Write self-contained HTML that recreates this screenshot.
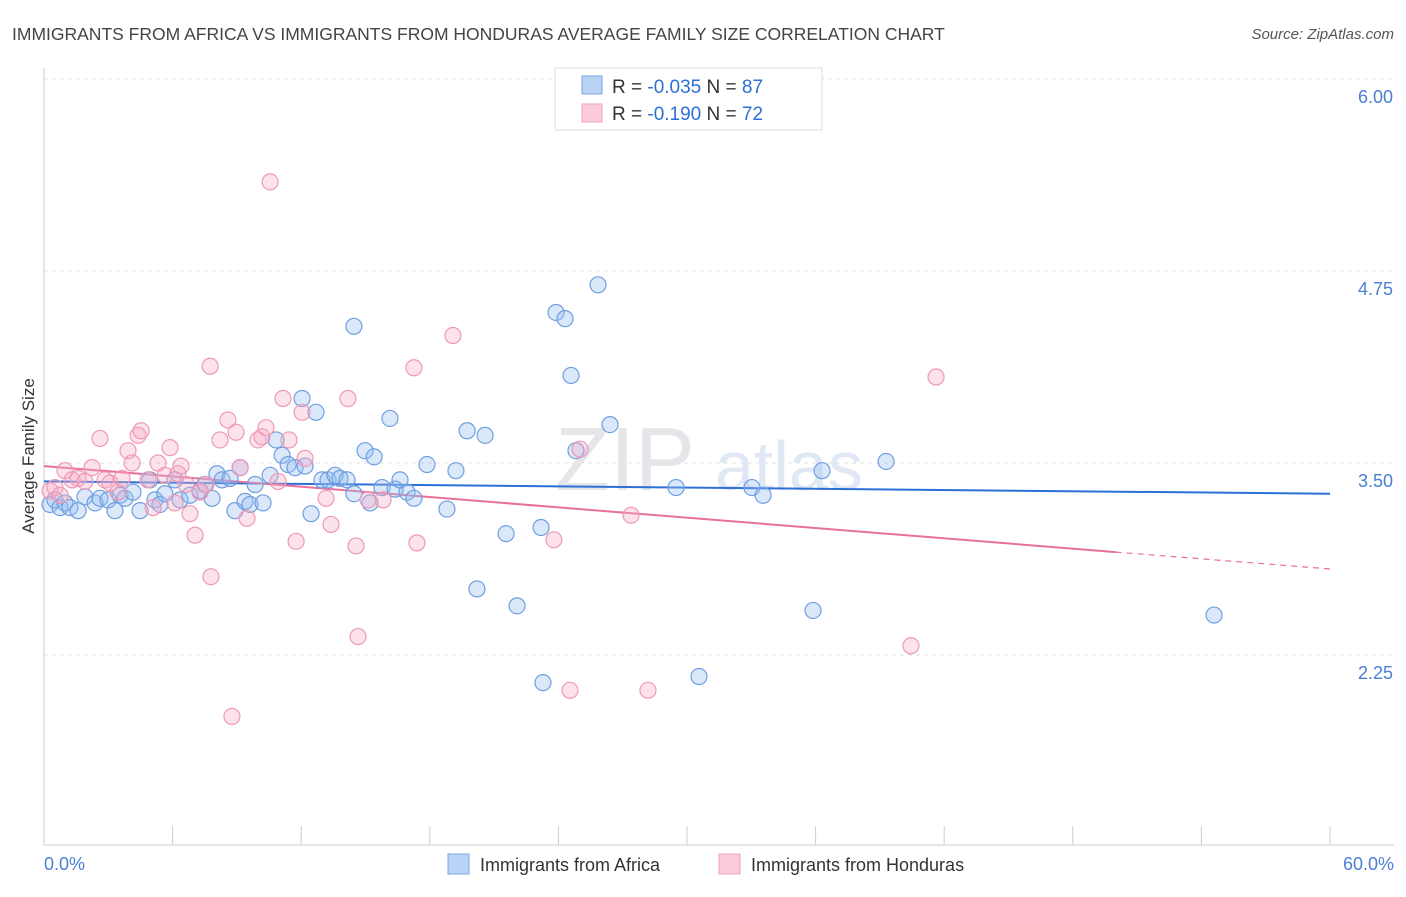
<!DOCTYPE html>
<html><head><meta charset="utf-8"><style>
body{margin:0;background:#fff;font-family:"Liberation Sans",sans-serif;}
svg text{font-family:"Liberation Sans",sans-serif;}
</style></head><body>
<svg id="chart" width="1406" height="892" xmlns="http://www.w3.org/2000/svg">
<text x="12" y="40" font-size="17.5" fill="#444">IMMIGRANTS FROM AFRICA VS IMMIGRANTS FROM HONDURAS AVERAGE FAMILY SIZE CORRELATION CHART</text>
<text x="1394" y="39" font-size="15" fill="#555" font-style="italic" text-anchor="end">Source: ZipAtlas.com</text>
<text x="555" y="490" font-size="90" fill="#e6e6ea" font-family="Liberation Serif">ZIP</text>
<text x="715" y="490" font-size="70" fill="#dfe8f4">atlas</text>
<g id="grid"></g>
<g id="axes"></g>
<g id="trend"></g>
<g id="points"></g>
<text transform="translate(34,456) rotate(-90)" font-size="17" fill="#333" text-anchor="middle">Average Family Size</text>
<text x="44" y="870" font-size="18" fill="#4a7fd4">0.0%</text>
<text x="1394" y="870" font-size="18" fill="#4a7fd4" text-anchor="end">60.0%</text>
<g>
<rect x="555" y="68" width="267" height="62" fill="#fff" stroke="#ddd"/>
<rect x="582" y="76" width="20" height="18" fill="#b9d3f7" stroke="#7aa7e6"/>
<rect x="582" y="104" width="20" height="18" fill="#fbcbd9" stroke="#f0a3bd"/>
<text x="612" y="93" font-size="19" fill="#333">R = <tspan fill="#2d6fd6">-0.035</tspan>   N = <tspan fill="#2d6fd6">87</tspan></text>
<text x="612" y="120" font-size="19" fill="#333">R =  <tspan fill="#2d6fd6">-0.190</tspan>   N = <tspan fill="#2d6fd6">72</tspan></text>
</g>
<g>
<rect x="448" y="854" width="21" height="20" fill="#b9d3f7" stroke="#7aa7e6"/>
<text x="480" y="871" font-size="18" fill="#333">Immigrants from Africa</text>
<rect x="719" y="854" width="21" height="20" fill="#fbcbd9" stroke="#f0a3bd"/>
<text x="751" y="871" font-size="18" fill="#333">Immigrants from Honduras</text>
</g>
</svg>
<script>
const yTicks=[6.00,4.75,3.50,2.25];
const yTickLabels=["6.00","4.75","3.50","2.25"];
const xTicks=[0,6,12,18,24,30,36,42,48,54,60];
const blueX=[0.28,0.51,0.75,0.98,1.21,1.59,1.91,2.38,2.61,2.99,3.31,3.55,3.78,4.15,4.48,4.94,5.18,5.41,5.64,6.11,6.35,6.81,7.28,7.51,7.84,8.07,8.31,8.68,8.91,9.15,9.38,9.61,9.85,10.22,10.55,10.83,11.11,11.39,11.71,12.04,12.18,12.46,12.69,12.97,13.25,13.58,13.81,14.14,14.46,14.46,14.98,15.21,15.40,15.77,16.14,16.38,16.61,16.94,17.26,17.87,18.80,19.22,19.74,20.20,20.58,21.56,22.07,23.19,23.28,23.89,24.31,24.59,24.82,25.85,26.41,29.49,30.56,33.03,33.55,35.88,36.30,39.29,54.59];
const blueY=[3.23,3.26,3.21,3.24,3.21,3.19,3.28,3.24,3.27,3.26,3.19,3.29,3.27,3.31,3.19,3.39,3.26,3.23,3.30,3.39,3.26,3.29,3.32,3.36,3.27,3.43,3.39,3.40,3.19,3.47,3.25,3.23,3.36,3.24,3.42,3.65,3.55,3.49,3.47,3.92,3.48,3.17,3.83,3.39,3.39,3.42,3.40,3.39,3.30,4.39,3.58,3.24,3.54,3.34,3.79,3.33,3.39,3.31,3.27,3.49,3.20,3.45,3.71,2.68,3.68,3.04,2.57,3.08,2.07,4.48,4.44,4.07,3.58,4.66,3.75,3.34,2.11,3.34,3.29,2.54,3.45,3.51,2.51];
const pinkX=[0.28,0.51,0.75,0.98,1.31,1.59,1.91,2.24,2.61,2.85,3.08,3.45,3.64,3.92,4.11,4.39,4.53,4.85,5.09,5.32,5.65,5.88,6.11,6.25,6.39,6.63,6.81,7.05,7.28,7.56,7.75,7.79,8.21,8.58,8.77,8.96,9.15,9.47,9.98,10.17,10.36,10.55,10.92,11.15,11.43,11.76,12.04,12.18,13.16,13.39,14.18,14.56,14.65,15.12,15.82,17.26,17.40,19.08,23.79,24.54,25.01,27.39,28.18,40.45,41.62];
const pinkY=[3.32,3.34,3.29,3.45,3.39,3.40,3.38,3.47,3.66,3.39,3.37,3.31,3.40,3.58,3.50,3.68,3.71,3.39,3.21,3.50,3.42,3.60,3.24,3.43,3.48,3.36,3.17,3.03,3.31,3.36,4.13,2.76,3.65,3.78,1.85,3.70,3.47,3.14,3.65,3.67,3.73,5.33,3.38,3.92,3.65,2.99,3.83,3.53,3.27,3.10,3.92,2.96,2.37,3.26,3.26,4.12,2.98,4.33,3.00,2.02,3.59,3.16,2.02,2.31,4.06];
const blueTrend=[[0,3.38],[60,3.30]];
const pinkTrend=[[0,3.48],[50,2.92],[60,2.81]];
const NS="http://www.w3.org/2000/svg";
const X=v=>44+v/60*1286;
const Y=v=>79+(6-v)*153.6;
function mk(tag,attrs,parent){const e=document.createElementNS(NS,tag);for(const k in attrs)e.setAttribute(k,attrs[k]);document.getElementById(parent).appendChild(e);return e;}
yTicks.forEach((t,i)=>{
 const l=mk('line',{x1:44,x2:1394,y1:Y(t),y2:Y(t),stroke:'#e2e2e2','stroke-dasharray':'4,4'},'grid');
 
 
 const tx=mk('text',{x:1393,y:Y(t)+24,'font-size':18,fill:'#4a7fd4','text-anchor':'end'},'grid');
 tx.textContent=yTickLabels[i];
 
 
});
const ax=mk('line',{x1:44,x2:1394,y1:845,y2:845,stroke:'#ccc'},'axes');


const ay=mk('line',{x1:44,x2:44,y1:68,y2:845,stroke:'#ccc'},'axes');


xTicks.forEach(t=>{
 const l=mk('line',{x1:X(t),x2:X(t),y1:826,y2:845,stroke:'#ccc'},'axes');
 
 
});
function pts(xs,ys,fill,stroke,name){
 xs.forEach((x,i)=>{
  const c=mk('circle',{cx:X(x),cy:Y(ys[i]),r:8,fill:fill,stroke:stroke,'stroke-width':1.2},'points');
  
  
 });
}
pts(blueX,blueY,'rgba(150,190,242,0.35)','#6f9fe0','africa-point');
pts(pinkX,pinkY,'rgba(246,172,198,0.35)','#ee99b5','honduras-point');
const bt=mk('line',{x1:X(blueTrend[0][0]),y1:Y(blueTrend[0][1]),x2:X(blueTrend[1][0]),y2:Y(blueTrend[1][1]),stroke:'#2d6fd6','stroke-width':2},'trend');


const pt=mk('line',{x1:X(pinkTrend[0][0]),y1:Y(pinkTrend[0][1]),x2:X(pinkTrend[1][0]),y2:Y(pinkTrend[1][1]),stroke:'#e8709a','stroke-width':2},'trend');


const pd=mk('line',{x1:X(pinkTrend[1][0]),y1:Y(pinkTrend[1][1]),x2:X(pinkTrend[2][0]),y2:Y(pinkTrend[2][1]),stroke:'#e8709a','stroke-width':1.2,'stroke-dasharray':'6,5'},'trend');


</script>
</body></html>
